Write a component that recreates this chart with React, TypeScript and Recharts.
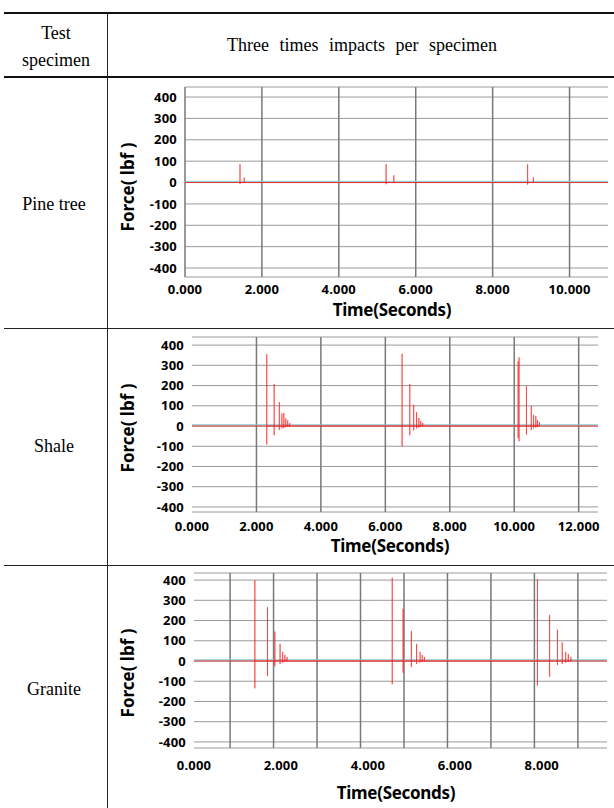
import { LineChart, Line, XAxis, YAxis, CartesianGrid, ReferenceLine } from 'recharts';

const forceTicks = [-400, -300, -200, -100, 0, 100, 200, 300, 400];

// Pine tree
const pineTimeTicks = [0, 2, 4, 6, 8, 10];
const pineGridTimes = [0, 2, 4, 6, 8, 10];
const pinePeakTimes = [1.43, 1.54, 5.23, 5.43, 8.91, 9.06];
const pinePeakHighs = [86, 23, 86, 34, 85, 25];
const pinePeakLows = [-6, 0, -8, 0, -10, -2];

// Shale
const shaleTimeTicks = [0, 2, 4, 6, 8, 10, 12];
const shaleGridTimes = [2, 4, 6, 8, 10, 12];
const shalePeakTimes = [
  2.32, 2.55, 2.71, 2.79, 2.85, 2.91, 2.97, 3.03,
  6.52, 6.76, 6.88, 6.97, 7.04, 7.1, 7.16,
  10.12, 10.15, 10.38, 10.53, 10.6, 10.67, 10.72, 10.78,
];
const shalePeakHighs = [
  355, 208, 118, 62, 65, 38, 28, 15,
  357, 208, 105, 68, 40, 25, 15,
  320, 340, 197, 99, 55, 50, 30, 20,
];
const shalePeakLows = [
  -92, -46, -20, -12, -10, -6, -4, -2,
  -99, -46, -22, -12, -8, -4, -2,
  -60, -76, -43, -20, -12, -8, -4, -2,
];

// Granite
const graniteTimeTicks = [0, 2, 4, 6, 8];
const graniteGridTimes = [0.83, 1.83, 2.83, 3.83, 4.83, 5.83, 6.83, 7.83, 8.83];
const granitePeakTimes = [
  1.4, 1.69, 1.86, 1.98, 2.04, 2.09, 2.14,
  4.56, 4.81, 5.0, 5.12, 5.2, 5.25, 5.3,
  7.9, 8.18, 8.36, 8.47, 8.55, 8.61, 8.67,
];
const granitePeakHighs = [
  400, 266, 145, 85, 45, 30, 20,
  412, 258, 148, 85, 45, 30, 20,
  405, 228, 155, 92, 45, 35, 20,
];
const granitePeakLows = [
  -135, -75, -26, -15, -8, -5, -2,
  -115, -58, -30, -15, -8, -5, -2,
  -122, -78, -20, -15, -8, -5, -2,
];

function buildSeries(times: number[], highs: number[], lows: number[]) {
  const rows: { time: number; force: number }[] = [];
  times.forEach((t, i) => {
    rows.push({ time: t, force: 0 });
    rows.push({ time: t, force: highs[i] });
    rows.push({ time: t, force: lows[i] });
    rows.push({ time: t, force: 0 });
  });
  return rows;
}

const tickStyle = { fontSize: 13, fontWeight: 700, fill: '#000', fontFamily: 'Noto Sans', letterSpacing: 0.2 };

const baselineShape = (p: any) => (
  <g>
    <line x1={p.x1} y1={p.y1 - 1.2} x2={p.x2} y2={p.y2 - 1.2} stroke="#7cc8d0" strokeWidth={1} />
    <line x1={p.x1} y1={p.y1} x2={p.x2} y2={p.y2} stroke="#e23a3a" strokeWidth={1} />
  </g>
);

interface ForceChartProps {
  top: number;
  height: number;
  yAxisWidth: number;
  rightMargin: number;
  xMax: number;
  yDomain: [number, number];
  timeTicks: number[];
  gridTimes: number[];
  data: { time: number; force: number }[];
  tickMargin: number;
}

function ForceChart({ top, height, yAxisWidth, rightMargin, xMax, yDomain, timeTicks, gridTimes, data, tickMargin }: ForceChartProps) {
  return (
    <div style={{ position: 'absolute', left: 110, top }}>
      <LineChart width={504} height={height} data={data} margin={{ top: 7, right: rightMargin, left: 0, bottom: 0 }}>
        <CartesianGrid vertical={false} stroke="#9a9a9a" strokeWidth={1} />
        {gridTimes.map((t) => (
          <ReferenceLine key={t} x={t} stroke="#787878" strokeWidth={1.5} />
        ))}
        <XAxis
          type="number"
          dataKey="time"
          domain={[0, xMax]}
          ticks={timeTicks}
          interval={0}
          tickFormatter={(v: number) => v.toFixed(3)}
          axisLine={false}
          tickLine={false}
          tickMargin={tickMargin}
          height={30}
          tick={tickStyle}
          allowDataOverflow
        />
        <YAxis
          type="number"
          domain={yDomain}
          ticks={forceTicks}
          interval={0}
          width={yAxisWidth}
          axisLine={false}
          tickLine={false}
          tick={tickStyle}
          allowDataOverflow
        />
        <ReferenceLine y={0} shape={baselineShape} />
        <Line
          type="linear"
          dataKey="force"
          stroke="#ff2020"
          strokeOpacity={0.6}
          strokeWidth={1}
          dot={false}
          isAnimationActive={false}
        />
      </LineChart>
    </div>
  );
}

const serif = '"Liberation Serif", "Times New Roman", serif';
const sans = '"Noto Sans", sans-serif';

function CellText({ x, y, children, size = 18, spacing = 0 }: { x: number; y: number; children: any; size?: number; spacing?: number }) {
  return (
    <div
      style={{
        position: 'absolute',
        left: x - 200,
        top: y - size * 0.6,
        width: 400,
        textAlign: 'center',
        fontFamily: serif,
        fontSize: size,
        lineHeight: `${size * 1.2}px`,
        wordSpacing: spacing,
        whiteSpace: 'nowrap',
      }}
    >
      {children}
    </div>
  );
}

function TimeTitle({ x, y }: { x: number; y: number }) {
  return (
    <div
      style={{
        position: 'absolute',
        left: x - 100,
        top: y - 9,
        width: 200,
        textAlign: 'center',
        fontFamily: sans,
        fontWeight: 700,
        fontSize: 17,
        lineHeight: '18px',
        letterSpacing: -0.3,
      }}
    >
      Time(Seconds)
    </div>
  );
}

function ForceTitle({ x, y }: { x: number; y: number }) {
  return (
    <div
      style={{
        position: 'absolute',
        left: x - 60,
        top: y - 9,
        width: 120,
        height: 18,
        textAlign: 'center',
        fontFamily: sans,
        fontWeight: 700,
        fontSize: 17,
        lineHeight: '18px',
        transform: 'rotate(-90deg)',
        whiteSpace: 'pre',
      }}
    >
      {'Force( lbf )'}
    </div>
  );
}

export default function App() {
  return (
    <div style={{ position: 'absolute', left: 0, top: 0, width: 614, height: 808, background: '#fff', overflow: 'hidden' }}>
      {/* table rules */}
      <div style={{ position: 'absolute', left: 4, top: 12, width: 610, height: 2, background: '#111' }} />
      <div style={{ position: 'absolute', left: 4, top: 76, width: 610, height: 2, background: '#111' }} />
      <div style={{ position: 'absolute', left: 4, top: 328, width: 610, height: 1, background: '#222' }} />
      <div style={{ position: 'absolute', left: 4, top: 565, width: 610, height: 1, background: '#222' }} />
      <div style={{ position: 'absolute', left: 107, top: 13, width: 1, height: 795, background: '#222' }} />

      <CellText x={56} y={34}>Test</CellText>
      <CellText x={56} y={61}>specimen</CellText>
      <CellText x={362} y={46} spacing={6}>Three times impacts per specimen</CellText>
      <CellText x={54} y={205}>Pine tree</CellText>
      <CellText x={54} y={447}>Shale</CellText>
      <CellText x={54} y={690}>Granite</CellText>

      <ForceChart
        top={80}
        height={227}
        yAxisWidth={75}
        rightMargin={6}
        xMax={11}
        yDomain={[-442, 447]}
        timeTicks={pineTimeTicks}
        gridTimes={pineGridTimes}
        data={buildSeries(pinePeakTimes, pinePeakHighs, pinePeakLows)}
        tickMargin={2}
      />
      <ForceChart
        top={330}
        height={212}
        yAxisWidth={82}
        rightMargin={16}
        xMax={12.6}
        yDomain={[-425, 440]}
        timeTicks={shaleTimeTicks}
        gridTimes={shaleGridTimes}
        data={buildSeries(shalePeakTimes, shalePeakHighs, shalePeakLows)}
        tickMargin={4}
      />
      <ForceChart
        top={566}
        height={212}
        yAxisWidth={84}
        rightMargin={7}
        xMax={9.5}
        yDomain={[-430, 435]}
        timeTicks={graniteTimeTicks}
        gridTimes={graniteGridTimes}
        data={buildSeries(granitePeakTimes, granitePeakHighs, granitePeakLows)}
        tickMargin={7}
      />

      <ForceTitle x={128} y={187} />
      <ForceTitle x={128} y={428} />
      <ForceTitle x={128} y={673} />
      <TimeTitle x={392} y={310} />
      <TimeTitle x={390} y={546} />
      <TimeTitle x={396} y={793} />
    </div>
  );
}
